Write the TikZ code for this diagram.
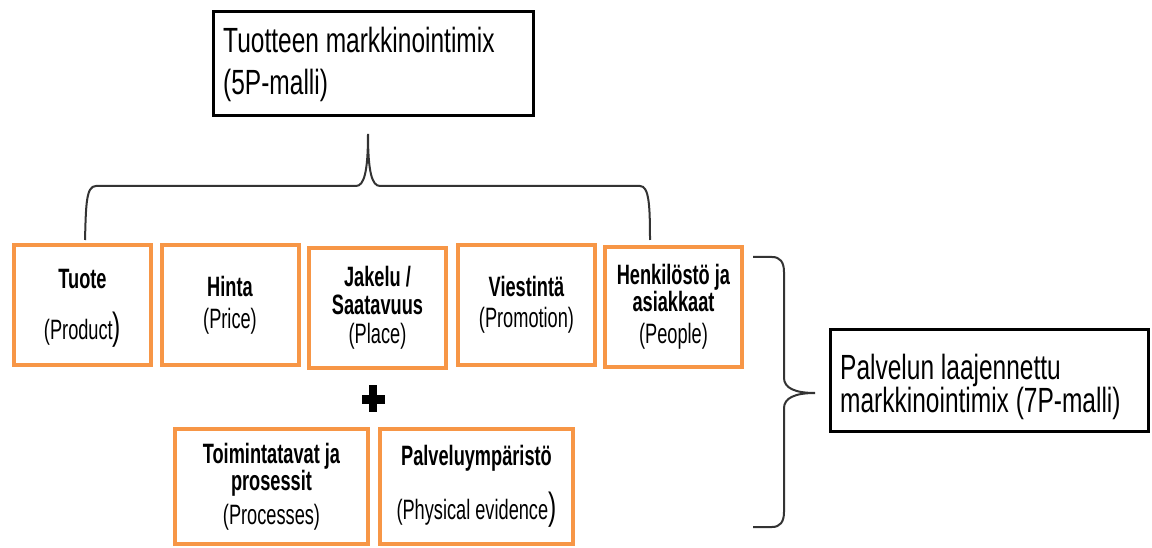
\documentclass[tikz,border=0pt]{standalone}
\usepackage{fontspec}
\setmainfont[FakeStretch=0.7]{Liberation Sans}
\newfontfamily\boxfont[FakeStretch=0.65]{Liberation Sans}
\definecolor{orng}{HTML}{F79646}
\definecolor{brc}{HTML}{333333}
\newcommand{\bigparen}{{\fontsize{38}{24}\selectfont )}}
\begin{document}
\begin{tikzpicture}[x=1pt,y=-1pt,
  obox/.style={draw=orng, line width=4pt, fill=white, minimum width=137pt, minimum height=120pt, inner sep=0pt, align=center, font=\boxfont\fontsize{28}{24}\selectfont},
  obig/.style={obox, minimum width=193pt, minimum height=115pt},
  bbox/.style={draw=black, line width=2.7pt, inner sep=0pt},
  bline/.style={anchor=base west, inner sep=0pt, font=\fontsize{35}{35}\selectfont},
  brace/.style={draw=brc, line width=2pt}]
\useasboundingbox[fill=white] (0,0) rectangle (1152,548);

\node[bbox, minimum width=320pt, minimum height=104pt] (top) at (373.5,63.5) {};
\node[bline] (tt1) at (223,53) {Tuotteen markkinointimix};
\node[bline] (tt2) at (223,95) {(5P-malli)};
\node[bbox, minimum width=318pt, minimum height=102pt] (right) at (989.5,380.5) {};
\node[bline] (rt1) at (840,379) {Palvelun laajennettu};
\node[bline] (rt2) at (840,412) {markkinointimix (7P-malli)};

\node[obox] (tuote) at (82.5,305) {\rule{0pt}{26pt}\textbf{Tuote}\\[22pt](Product\bigparen};
\node[obox] (hinta) at (230,305) {\textbf{Hinta}\\[8pt](Price)};
\node[obox] (jakelu) at (377.5,308) {\textbf{Jakelu /}\\[4pt]\textbf{Saatavuus}\\[5pt](Place)};
\node[obox] (viest) at (526.5,305) {\textbf{Viestintä}\\[7pt](Promotion)};
\node[obox] (henk) at (673.5,307) {\textbf{Henkilöstö ja}\\\textbf{asiakkaat}\\[8pt](People)};

\node[obig] (toim) at (271.5,486.5) {\textbf{Toimintatavat ja}\\\textbf{prosessit}\\[7pt](Processes)};
\node[obig] (palv) at (476.5,486.5) {\textbf{Palveluympäristö}\\[20pt](Physical evidence\bigparen};

% plus sign
\fill (369,385) rectangle (377,412);
\fill (362,394.5) rectangle (385,403.5);

% top brace
\draw[brace] (85,240) .. controls (86,205) and (86,186) .. (96,186) -- (356,186) .. controls (364,186) and (368,172) .. (368,134) .. controls (368,172) and (372,186) .. (380,186) -- (640,186) .. controls (649,186) and (650,205) .. (650,240);

% right brace
\draw[brace] (753,257) -- (772,257) .. controls (780,257) and (784,262) .. (784,272) -- (784,378) .. controls (784,388) and (795,393) .. (815,393) .. controls (795,393) and (784,398) .. (784,408) -- (784,512) .. controls (784,522) and (780,527) .. (772,527) -- (753,527);
\end{tikzpicture}
\end{document}
